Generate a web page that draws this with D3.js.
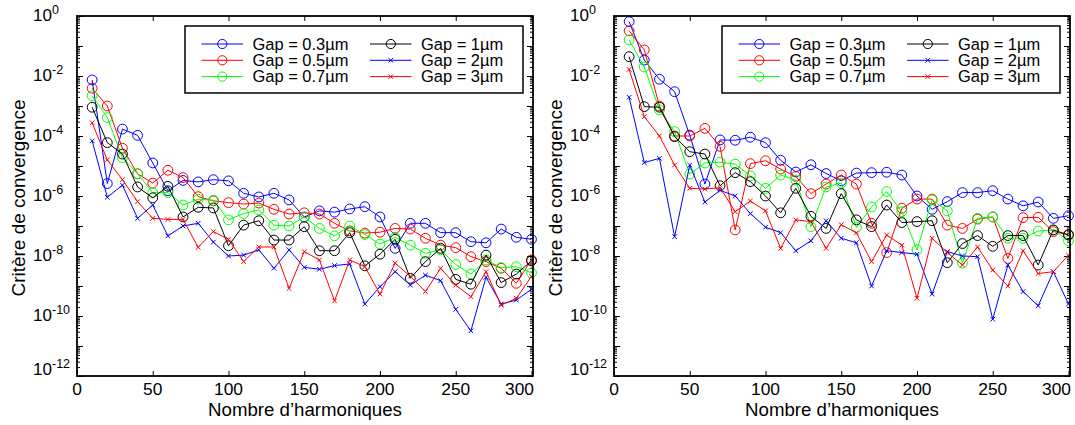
<!DOCTYPE html>
<html><head><meta charset="utf-8">
<script src="https://cdn.jsdelivr.net/npm/d3@7"></script>
<style>
body{margin:0;background:#fff}
svg{display:block}
text{font-family:"Liberation Sans",Arial,Helvetica,sans-serif;fill:#000}
</style>
</head><body>
<svg id="chart" width="1075" height="425"></svg>
<script>
// ---------- data ----------
const harmonics = [10,20,30,40,50,60,70,80,90,100,110,120,130,140,150,160,170,180,190,200,210,220,230,240,250,260,270,280,290,300];
const seriesNames = ["Gap = 0.3µm","Gap = 0.5µm","Gap = 0.7µm","Gap = 1µm","Gap = 2µm","Gap = 3µm"];
const seriesColors = ["#0000ff","#ff0000","#00ff00","#000000","#0000ff","#ff0000"];
const seriesMarkers = ["circle","circle","circle","circle","cross","cross"];
const xTickValues = [0,50,100,150,200,250,300];
const yTickExponents = [0,-2,-4,-6,-8,-10,-12];
const xLabel = "Nombre d’harmoniques";
const yLabel = "Critère de convergence";

// left panel
const leftGap03 = [7.4e-3,2.6e-6,1.7e-4,1.05e-4,1.26e-5,1.5e-6,3.3e-6,2.95e-6,3.5e-6,3.2e-6,1.23e-6,9.3e-7,1.23e-6,7.4e-7,2.0e-7,3.2e-7,2.9e-7,3.7e-7,4.4e-7,2.0e-7,1.8e-8,1.23e-7,1.23e-7,6.0e-8,6.0e-8,3.0e-8,2.75e-8,7.9e-8,4.2e-8,3.6e-8];
const leftGap05 = [3.9e-3,1.0e-3,3.9e-5,5.5e-6,2.7e-6,7.2e-6,4.1e-6,9.5e-7,6.9e-7,6.0e-7,5.4e-7,5.8e-7,3.6e-7,2.5e-7,2.75e-7,2.5e-7,1.23e-7,6.9e-8,5.8e-8,6.2e-8,8.3e-8,7.9e-8,3.9e-8,2.3e-8,1.9e-8,9.5e-9,6.5e-9,3.9e-9,1.23e-9,7.4e-9];
const leftGap07 = [2.2e-3,4.1e-4,1.9e-5,5.5e-6,1.3e-6,1.3e-6,5.0e-7,7.8e-7,7.2e-7,1.6e-7,2.6e-7,3.4e-7,1.07e-7,1.0e-7,2.0e-7,8.3e-8,4.7e-8,1.0e-7,5.2e-8,2.5e-8,4.2e-8,2.3e-8,1.23e-8,1.6e-8,5.2e-9,2.5e-9,7.4e-9,4.1e-9,4.4e-9,2.75e-9];
const leftGap1 = [9.1e-4,6.0e-5,2.5e-5,2.0e-6,8.7e-7,2.1e-6,2.0e-7,4.2e-7,4.0e-7,2.2e-8,1.07e-7,1.5e-7,3.4e-8,3.4e-8,9.5e-8,1.5e-8,1.5e-8,6.0e-8,4.7e-9,1.15e-8,3.6e-8,1.8e-9,6.5e-9,1.8e-8,1.66e-9,1.15e-9,1.07e-8,1.3e-9,2.5e-9,6.9e-9];
const leftGap2 = [6.9e-5,9.1e-7,2.3e-6,1.8e-7,5.0e-7,4.7e-8,1.0e-7,1.23e-7,2.9e-8,1.0e-8,1.07e-8,1.6e-8,3.9e-9,1.6e-8,4.2e-9,3.6e-9,4.8e-9,5.4e-9,2.5e-10,9.5e-10,3.0e-9,1.07e-9,2.3e-9,1.5e-9,1.66e-10,3.2e-11,1.95e-9,2.5e-10,3.4e-10,7.8e-10];
const leftGap3 = [2.75e-4,1.6e-5,3.5e-6,6.5e-7,1.8e-7,1.66e-7,1.66e-7,1.95e-8,6.5e-8,3.6e-8,6.5e-9,2.0e-8,2.0e-8,8.3e-10,1.4e-8,7.4e-9,3.2e-10,7.4e-9,4.4e-9,5.4e-10,5.8e-9,2.1e-9,6.5e-10,3.9e-9,1.07e-9,4.4e-10,3.0e-9,2.3e-10,3.9e-10,2.1e-9];

// right panel
const rightGap03 = [0.65,3.4e-2,7.8e-3,3.0e-3,1.07e-4,2.5e-6,7.4e-5,7.2e-5,9.1e-5,6.0e-5,1.55e-5,6.3e-6,1.1e-5,5.6e-6,3.2e-6,5.8e-6,6.0e-6,6.2e-6,5.0e-6,1.0e-6,3.6e-7,6.5e-7,1.3e-6,1.3e-6,1.5e-6,7.9e-7,4.7e-7,6.3e-7,1.8e-7,2.2e-7];
const rightGap05 = [0.32,7.4e-2,1.0e-3,1.0e-4,1.0e-4,1.8e-4,4.5e-5,7.4e-8,1.2e-5,1.5e-5,7.9e-6,4.5e-6,1.2e-6,2.5e-6,5.0e-6,2.5e-6,1.23e-7,1.3e-8,3.9e-7,7.9e-7,7.9e-7,1.07e-7,8.3e-8,1.7e-7,2.0e-7,8.3e-9,1.9e-7,1.95e-7,6.5e-8,5.2e-8];
const rightGap07 = [0.16,2.0e-2,7.4e-4,1.4e-4,5.4e-6,1.26e-5,1.35e-5,1.15e-5,4.7e-6,1.8e-6,5.0e-6,3.4e-6,9.5e-8,2.0e-6,2.7e-6,8.9e-8,4.3e-7,1.4e-6,3.0e-7,1.6e-8,7.4e-7,3.2e-7,5.8e-9,1.8e-7,2.0e-7,3.9e-8,3.9e-8,6.8e-8,7.4e-8,3.2e-8];
const rightGap1 = [4.4e-2,9.5e-4,9.1e-4,9.5e-5,3.0e-5,2.5e-5,2.2e-6,6.0e-6,3.0e-6,1.0e-6,2.75e-7,1.8e-6,2.1e-7,8.3e-8,1.2e-6,1.6e-7,9.5e-8,5.0e-7,1.3e-7,1.4e-7,1.5e-7,6.0e-9,2.6e-8,4.8e-8,2.1e-8,4.8e-8,4.8e-8,5.0e-9,7.4e-8,5.0e-8];
const rightGap2 = [1.95e-3,1.3e-5,1.8e-5,4.4e-8,1.07e-5,6.3e-7,1.55e-6,1.0e-6,2.6e-7,9.1e-8,6.0e-8,1.5e-8,3.2e-8,1.5e-7,3.9e-8,2.75e-8,1.0e-9,1.5e-8,1.3e-8,1.15e-8,5.4e-10,1.4e-8,1.0e-8,9.5e-9,7.8e-11,5.0e-9,6.5e-10,2.2e-10,3.0e-9,2.5e-10];
const rightGap3 = [1.66e-2,4.4e-4,1.0e-4,1.07e-5,1.8e-6,1.7e-6,1.9e-6,3.0e-7,6.8e-7,3.2e-7,1.8e-8,1.6e-7,1.4e-7,1.8e-8,1.1e-7,5.9e-8,6.5e-9,5.0e-8,2.3e-8,3.9e-10,3.9e-8,1.3e-8,5.0e-9,2.0e-8,3.4e-9,1.0e-9,1.5e-8,2.6e-9,3.0e-9,1.07e-8];

const leftSeries = [leftGap03,leftGap05,leftGap07,leftGap1,leftGap2,leftGap3];
const rightSeries = [rightGap03,rightGap05,rightGap07,rightGap1,rightGap2,rightGap3];

// ---------- drawing ----------
const svg = d3.select("#chart");
const FONT = 17, SUP = 12.5;

// size a text so that its rendered width matches a target width
function fitSize(str, target) {
  const t = svg.append("text").attr("font-size", 20).text(str);
  const w = t.node().getComputedTextLength();
  t.remove();
  return 20 * target / w;
}
const legendFont = Math.min(18.5, fitSize("Gap = 0.3µm", 96));
const xTitleFont = Math.min(19.5, fitSize(xLabel, 194));
const yTitleFont = Math.min(19.5, fitSize(yLabel, 197));
const tickFont = Math.min(18, fitSize("100", 29));

function drawPanel(left, values) {
  const top = 16, bottom = 376, width = 456;
  const x = d3.scaleLinear().domain([0, 301]).range([left, left + width]);
  const y = d3.scaleLog().domain([1e-12, 1]).range([bottom, top]);
  const g = svg.append("g");

  g.append("rect").attr("x", left).attr("y", top).attr("width", width).attr("height", bottom - top).attr("fill", "#fff");

  const decades = d3.range(-12, 1).map(e => Math.pow(10, e));
  const minors = [];
  for (let e = -12; e < 0; e++) for (let m = 2; m <= 9; m++) minors.push(m * Math.pow(10, e));

  const styleAxis = sel => { sel.select(".domain").remove(); sel.selectAll("line").attr("stroke", "#000").attr("stroke-width", 1); sel.selectAll("text").remove(); };

  g.append("g").attr("transform", `translate(0,${bottom})`).call(d3.axisBottom(x).tickValues(xTickValues).tickSize(-5)).call(styleAxis);
  g.append("g").attr("transform", `translate(0,${top})`).call(d3.axisTop(x).tickValues(xTickValues).tickSize(-5)).call(styleAxis);
  g.append("g").attr("transform", `translate(${left},0)`).call(d3.axisLeft(y).tickValues(decades).tickSize(-6)).call(styleAxis);
  g.append("g").attr("transform", `translate(${left},0)`).call(d3.axisLeft(y).tickValues(minors).tickSize(-3)).call(styleAxis);
  g.append("g").attr("transform", `translate(${left + width},0)`).call(d3.axisRight(y).tickValues(decades).tickSize(-6)).call(styleAxis);
  g.append("g").attr("transform", `translate(${left + width},0)`).call(d3.axisRight(y).tickValues(minors).tickSize(-3)).call(styleAxis);

  // x tick labels
  xTickValues.forEach((v, i) => {
    const last = i === xTickValues.length - 1;
    g.append("text").attr("x", last ? left + width + 1 : x(v)).attr("y", 395)
      .attr("text-anchor", last ? "end" : "middle").attr("font-size", tickFont).text(v);
  });
  // y tick labels
  yTickExponents.forEach((e, i) => {
    let yy = y(Math.pow(10, e));
    if (i === yTickExponents.length - 1) yy -= 6;
    const bx = left - 25;
    g.append("text").attr("x", bx).attr("y", yy + 5).attr("text-anchor", "end").attr("font-size", FONT).text("10");
    g.append("text").attr("x", bx).attr("y", yy - 2.5).attr("text-anchor", "start").attr("font-size", SUP).text(String(e));
  });

  // axis titles
  g.append("text").attr("x", left + width / 2).attr("y", 416).attr("text-anchor", "middle").attr("font-size", xTitleFont).text(xLabel);
  g.append("text").attr("transform", `translate(${left - 52},${(top + bottom) / 2 + 2}) rotate(-90)`)
    .attr("text-anchor", "middle").attr("font-size", yTitleFont).text(yLabel);

  // series
  const line = d3.line().x((d, i) => x(harmonics[i])).y(d => y(d));
  values.forEach((vals, si) => {
    const col = seriesColors[si];
    const sg = g.append("g");
    sg.append("path").attr("d", line(vals)).attr("fill", "none").attr("stroke", col).attr("stroke-width", 1);
    vals.forEach((v, i) => drawMarker(sg, seriesMarkers[si], x(harmonics[i]), y(v), col));
  });

  // frame
  g.append("rect").attr("x", left).attr("y", top).attr("width", width).attr("height", bottom - top)
    .attr("fill", "none").attr("stroke", "#000").attr("stroke-width", 1.8);

  // legend
  const lx = left + 108, ly = 26, lw = 338, lh = 67;
  const lg = g.append("g");
  lg.append("rect").attr("x", lx).attr("y", ly).attr("width", lw).attr("height", lh)
    .attr("fill", "#fff").attr("stroke", "#000").attr("stroke-width", 1.5);
  seriesNames.forEach((name, si) => {
    const col = Math.floor(si / 3), row = si % 3;
    const ox = lx + (col === 0 ? 16.5 : 185);
    const cy = ly + 18 + row * 16.3;
    lg.append("line").attr("x1", ox).attr("x2", ox + 41.5).attr("y1", cy).attr("y2", cy)
      .attr("stroke", seriesColors[si]).attr("stroke-width", 1);
    drawMarker(lg, seriesMarkers[si], ox + 20.8, cy, seriesColors[si], true);
    lg.append("text").attr("x", ox + 51).attr("y", cy + 5.8).attr("font-size", legendFont).text(name);
  });
}

function drawMarker(g, type, cx, cy, col, small) {
  if (type === "circle") {
    g.append("circle").attr("cx", cx).attr("cy", cy).attr("r", small ? 4.6 : 4.9)
      .attr("fill", "none").attr("stroke", col).attr("stroke-width", 1);
  } else {
    const s = 2.3;
    g.append("path").attr("d", `M${cx - s},${cy - s}L${cx + s},${cy + s}M${cx - s},${cy + s}L${cx + s},${cy - s}`)
      .attr("stroke", col).attr("stroke-width", 1).attr("fill", "none");
  }
}

drawPanel(77, leftSeries);
drawPanel(614, rightSeries);
</script>
</body></html>
